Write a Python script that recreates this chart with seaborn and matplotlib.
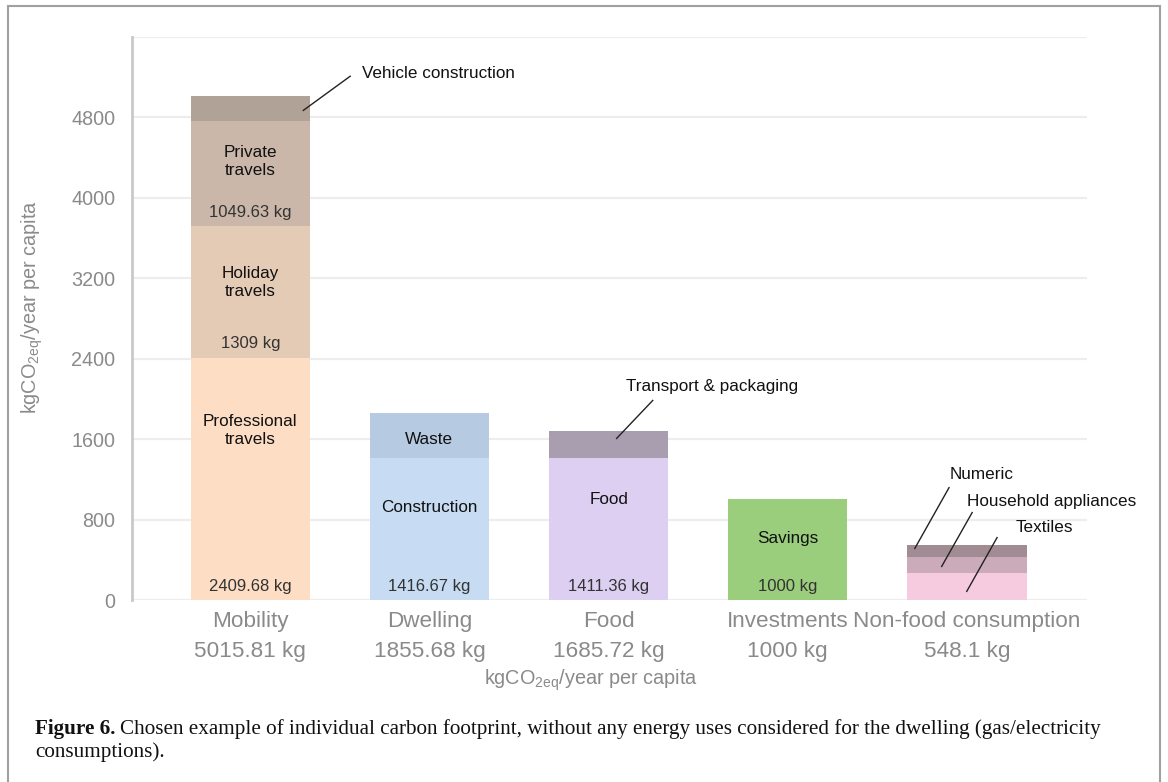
import matplotlib
matplotlib.use("Agg")
import matplotlib.pyplot as plt
from matplotlib.patches import Rectangle
import seaborn as sns
import pandas as pd

# ---------------- data ----------------
categories = ["Mobility", "Dwelling", "Food", "Investments", "Non-food consumption"]

mobility_segments = ["Professional travels", "Holiday travels", "Private travels", "Vehicle construction"]
mobility_values = [2409.68, 1309.00, 1049.63, 247.50]

dwelling_segments = ["Construction", "Waste"]
dwelling_values = [1416.67, 439.01]

food_segments = ["Food", "Transport & packaging"]
food_values = [1411.36, 274.36]

investments_segments = ["Savings"]
investments_values = [1000.00]

nonfood_segments = ["Textiles", "Household appliances", "Numeric"]
nonfood_values = [270.0, 160.0, 118.1]

segment_colors = {
    "Professional travels": "#FDDEC5",
    "Holiday travels": "#E4CBB6",
    "Private travels": "#CAB7A9",
    "Vehicle construction": "#B0A296",
    "Construction": "#C7DCF3",
    "Waste": "#B6CAE1",
    "Food": "#DCCFF1",
    "Transport & packaging": "#A99EAF",
    "Savings": "#9ACD7C",
    "Textiles": "#F6CADF",
    "Household appliances": "#CBABBA",
    "Numeric": "#A28C93",
}

inside_names = {
    "Professional travels": "Professional\ntravels",
    "Holiday travels": "Holiday\ntravels",
    "Private travels": "Private\ntravels",
    "Construction": "Construction",
    "Waste": "Waste",
    "Food": "Food",
    "Savings": "Savings",
}
valued_segments = ["Professional travels", "Holiday travels", "Private travels",
                   "Construction", "Food", "Savings"]

# ---------------- build table ----------------
groups = [
    ("Mobility", mobility_segments, mobility_values),
    ("Dwelling", dwelling_segments, dwelling_values),
    ("Food", food_segments, food_values),
    ("Investments", investments_segments, investments_values),
    ("Non-food consumption", nonfood_segments, nonfood_values),
]
rows = []
for cat, segs, vals in groups:
    bottom = 0.0
    for s, v in zip(segs, vals):
        rows.append(dict(category=cat, segment=s, value=v, bottom=bottom, top=bottom + v))
        bottom += v
df = pd.DataFrame(rows)
totals = df.groupby("category", sort=False)["value"].sum()

# ---------------- style ----------------
sns.set_theme(style="white")
plt.rcParams["font.family"] = ["Liberation Sans", "DejaVu Sans"]
plt.rcParams["mathtext.fontset"] = "custom"
plt.rcParams["mathtext.rm"] = "Liberation Sans"
plt.rcParams["mathtext.it"] = "Liberation Sans:italic"

W, H = 1168, 782
fig = plt.figure(figsize=(W / 100, H / 100), dpi=100)
ax = fig.add_axes([132 / W, 1 - 600 / H, (1087 - 132) / W, (600 - 37) / H])

# stacked bars: draw cumulative tops from highest to lowest
for _, r in df.sort_values("top", ascending=False).iterrows():
    sns.barplot(x=[r["category"]], y=[r["top"]], order=categories,
                color=segment_colors[r["segment"]], saturation=1,
                width=0.665, errorbar=None, linewidth=0, ax=ax)

ax.set_xlim(-0.66, 4.67)
ax.set_ylim(0, 5600)
ax.set_yticks(range(0, 5601, 800))
ax.set_yticklabels([str(t) if t < 5600 else "" for t in range(0, 5601, 800)])
ax.yaxis.grid(True, color="#ededed", lw=1.6)
ax.xaxis.grid(False)
ax.set_axisbelow(True)
for sp in ["top", "right", "bottom"]:
    ax.spines[sp].set_visible(False)
ax.spines["left"].set_color("#c9c9c9")
ax.spines["left"].set_linewidth(2)
ax.tick_params(axis="y", length=0, pad=12, labelsize=14.2, labelcolor="#8a8a8a")
ax.tick_params(axis="x", length=0, pad=8, labelsize=16.2, labelcolor="#8a8a8a")
ax.set_xticks(range(len(categories)))
ax.set_xticklabels([f"{c}\n{round(totals[c], 2):g} kg" for c in categories], linespacing=1.55)

unit = r"kgCO$_{\mathrm{2eq}}$/year per capita"
ax.set_ylabel(unit, fontsize=14.3, color="#8a8a8a")
ax.yaxis.set_label_coords(-0.091, 0.52)
ax.set_xlabel(unit, fontsize=14.3, color="#8a8a8a")
ax.xaxis.label.set_va("center")
ax.xaxis.set_label_coords(0.481, -0.143)

# inside labels
name_frac = {
    "Professional travels": 0.70, "Holiday travels": 0.57, "Private travels": 0.61,
    "Construction": 0.65, "Waste": 0.40, "Food": 0.71, "Savings": 0.61,
}
pos = {c: i for i, c in enumerate(categories)}
for _, r in df.iterrows():
    s = r["segment"]
    x = pos[r["category"]]
    if s in inside_names:
        ax.text(x, r["bottom"] + name_frac[s] * r["value"], inside_names[s],
                ha="center", va="center", fontsize=12.3, color="#111111", linespacing=1.25)
    if s in valued_segments:
        ax.text(x, r["bottom"] + 138, f"{r['value']:g} kg",
                ha="center", va="center", fontsize=12, color="#333333")

# callouts with leader lines
callouts = [
    ("Vehicle construction", (0.293, 4866), (0.561, 5214), (0.623, 5234)),
    ("Transport & packaging", (2.042, 1602), (2.249, 1990), (2.097, 2119)),
    ("Numeric", (3.707, 507), (3.902, 1124), (3.905, 1244)),
    ("Household appliances", (3.857, 328), (4.031, 876), (4.000, 975)),
    ("Textiles", (3.997, 80), (4.170, 627), (4.270, 726)),
]
for txt, p0, p1, pt in callouts:
    ax.plot([p0[0], p1[0]], [p0[1], p1[1]], color="#222222", lw=1.0, solid_capstyle="butt")
    ax.text(pt[0], pt[1], txt, ha="left", va="center", fontsize=12.3, color="#111111")

# frame around figure (open at the bottom edge of the image)
fig.patches.append(Rectangle((8 / W, -0.02), (1160 - 8) / W, 1.02 - 6 / H,
                             transform=fig.transFigure, fill=False,
                             edgecolor="#a0a0a0", lw=1.5))

# caption
cap_size = 15.2
t1 = fig.text(35 / W, 1 - 729 / H, "Figure 6.", family="Liberation Serif",
              weight="bold", fontsize=cap_size, va="center", ha="left", color="#111111")
fig.canvas.draw()
bb = t1.get_window_extent(renderer=fig.canvas.get_renderer())
fig.text(bb.x1 / W + 5 / W, 1 - 729 / H,
         "Chosen example of individual carbon footprint, without any energy uses considered for the dwelling (gas/electricity",
         family="Liberation Serif", fontsize=cap_size, va="center", ha="left", color="#111111")
fig.text(35 / W, 1 - 752 / H, "consumptions).", family="Liberation Serif",
         fontsize=cap_size, va="center", ha="left", color="#111111")

fig.savefig("out.png", dpi=100)
